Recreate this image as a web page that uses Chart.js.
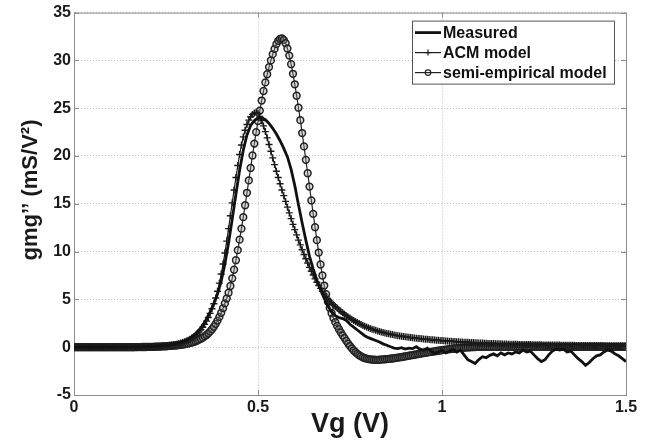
<!DOCTYPE html>
<html>
<head>
<meta charset="utf-8">
<script src="https://cdn.jsdelivr.net/npm/chart.js@4.4.1/dist/chart.umd.min.js"></script>
<style>
  html, body { margin: 0; padding: 0; background: #fff; }
  #wrap { width: 646px; height: 441px; }
</style>
</head>
<body>
<div id="wrap"><canvas id="chart" width="646" height="441"></canvas></div>
<script>
// sampling grids for Vg (V)
const vgModel = Array.from({ length: 301 }, (_, i) => +(i * 0.005).toFixed(3));
const vgMeas = Array.from({ length: 151 }, (_, i) => +(i * 0.01).toFixed(2));

// measured gmg'' (mS/V^2), every 0.01 V
const measured = [
  0, 0, 0, 0, 0, 0, 0, 0, 0, 0,
  0, 0, 0, 0, 0, 0.01, 0.01, 0.02, 0.03, 0.04,
  0.05, 0.07, 0.09, 0.12, 0.15, 0.19, 0.24, 0.31, 0.40, 0.52,
  0.67, 0.86, 1.10, 1.40, 1.80, 2.30, 2.95, 3.70, 4.55, 5.55,
  6.90, 8.70, 10.9, 13.4, 16.0, 18.5, 20.6, 22.2, 23.2, 23.7,
  23.95, 24.0, 23.8, 23.4, 22.9, 22.3, 21.6, 20.8, 19.9, 18.6,
  16.9, 14.9, 13.0, 11.2, 9.5, 8.2, 7.0, 6.0, 5.1, 4.3,
  3.7, 3.3, 3.1, 3.0, 2.8, 2.4, 2.1, 1.8, 1.5, 1.2,
  1.0, 0.85, 0.7, 0.55, 0.35, 0.2, 0.05, -0.1, -0.15, -0.05,
  -0.2, -0.1, -0.15, 0.05, -0.2, -0.3, -0.1, -0.4, -0.65, -0.5,
  -0.3, -0.6, -0.4, -0.2, -0.5, -0.3, -0.8, -1.3, -1.5, -1.7,
  -1.3, -1.0, -1.1, -0.85, -0.7, -0.9, -0.6, -0.8, -0.6, -0.7,
  -0.5, -0.6, -0.3, -0.5, -0.4, -0.8, -1.2, -1.5, -1.3, -0.8,
  -0.4, -0.2, -0.3, -0.2, -0.5, -0.4, -0.8, -1.2, -1.5, -1.9,
  -1.6, -1.2, -0.9, -0.8, -0.5, -0.3, -0.4, -0.7, -0.9, -1.2,
  -1.5
];

// ACM model, every 0.005 V
const acmModel = [
  0, 0, 0, 0, 0, 0, 0, 0, 0, 0,
  0, 0, 0, 0, 0, 0, 0, 0, 0, 0,
  0, 0, 0, 0, 0, 0, 0, 0, 0, 0,
  0, 0.01, 0.01, 0.01, 0.02, 0.02, 0.02, 0.03, 0.03, 0.04,
  0.04, 0.05, 0.05, 0.06, 0.07, 0.08, 0.09, 0.10, 0.12, 0.13,
  0.15, 0.17, 0.20, 0.22, 0.25, 0.29, 0.33, 0.38, 0.43, 0.49,
  0.56, 0.64, 0.73, 0.83, 0.95, 1.08, 1.23, 1.40, 1.60, 1.83,
  2.09, 2.39, 2.73, 3.11, 3.54, 4.02, 4.55, 5.15, 5.85, 6.70,
  7.65, 8.70, 9.85, 11.10, 12.40, 13.75, 15.10, 16.45, 17.75, 19.00,
  20.15, 21.15, 22.00, 22.70, 23.30, 23.75, 24.10, 24.35, 24.50, 24.55,
  24.45, 24.15, 23.70, 23.15, 22.55, 21.90, 21.20, 20.50, 19.80, 19.10,
  18.40, 17.75, 17.10, 16.45, 15.85, 15.25, 14.65, 14.05, 13.45, 12.85,
  12.30, 11.75, 11.20, 10.70, 10.20, 9.70, 9.25, 8.80, 8.35, 7.95,
  7.55, 7.15, 6.80, 6.45, 6.15, 5.85, 5.55, 5.30, 5.05, 4.85,
  4.65, 4.45, 4.25, 4.10, 3.90, 3.75, 3.60, 3.45, 3.30, 3.17,
  3.05, 2.93, 2.80, 2.69, 2.58, 2.48, 2.38, 2.28, 2.19, 2.11,
  2.03, 1.96, 1.89, 1.82, 1.76, 1.70, 1.64, 1.59, 1.54, 1.49,
  1.44, 1.40, 1.36, 1.32, 1.28, 1.24, 1.21, 1.18, 1.15, 1.12,
  1.09, 1.06, 1.03, 1.01, 0.98, 0.96, 0.94, 0.92, 0.90, 0.88,
  0.86, 0.84, 0.82, 0.80, 0.78, 0.77, 0.75, 0.73, 0.72, 0.70,
  0.69, 0.67, 0.66, 0.64, 0.63, 0.62, 0.60, 0.59, 0.58, 0.57,
  0.55, 0.54, 0.53, 0.52, 0.51, 0.50, 0.49, 0.48, 0.47, 0.46,
  0.45, 0.44, 0.43, 0.42, 0.41, 0.40, 0.40, 0.39, 0.38, 0.37,
  0.36, 0.36, 0.35, 0.34, 0.34, 0.33, 0.32, 0.32, 0.31, 0.31,
  0.30, 0.30, 0.29, 0.29, 0.28, 0.28, 0.28, 0.27, 0.27, 0.26,
  0.26, 0.26, 0.25, 0.25, 0.25, 0.24, 0.24, 0.24, 0.23, 0.23,
  0.23, 0.22, 0.22, 0.22, 0.22, 0.21, 0.21, 0.21, 0.21, 0.20,
  0.20, 0.20, 0.20, 0.19, 0.19, 0.19, 0.19, 0.19, 0.18, 0.18,
  0.18, 0.18, 0.18, 0.17, 0.17, 0.17, 0.17, 0.17, 0.17, 0.16,
  0.16, 0.16, 0.16, 0.16, 0.16, 0.15, 0.15, 0.15, 0.15, 0.15,
  0.15
];

// semi-empirical model, every 0.005 V
const semiModel = [
  0, 0, 0, 0, 0, 0, 0, 0, 0, 0,
  0, 0, 0, 0, 0, 0, 0, 0, 0, 0,
  0, 0, 0, 0, 0, 0, 0, 0, 0, 0,
  0, 0, 0, 0, 0.01, 0.01, 0.01, 0.02, 0.02, 0.02,
  0.03, 0.03, 0.04, 0.04, 0.05, 0.05, 0.06, 0.07, 0.08, 0.09,
  0.10, 0.11, 0.13, 0.14, 0.16, 0.18, 0.20, 0.22, 0.25, 0.28,
  0.31, 0.35, 0.39, 0.44, 0.49, 0.55, 0.62, 0.70, 0.79, 0.89,
  1.00, 1.13, 1.28, 1.45, 1.65, 1.88, 2.14, 2.44, 2.78, 3.17,
  3.60, 4.08, 4.58, 5.10, 5.70, 6.40, 7.20, 8.10, 9.10, 10.15,
  11.25, 12.40, 13.60, 14.85, 16.15, 17.45, 18.75, 20.05, 21.30, 22.50,
  23.65, 24.75, 25.80, 26.80, 27.70, 28.55, 29.30, 30.00, 30.65, 31.20,
  31.70, 32.05, 32.25, 32.30, 32.15, 31.80, 31.25, 30.50, 29.60, 28.60,
  27.50, 26.30, 25.05, 23.75, 22.40, 21.00, 19.60, 18.20, 16.80, 15.35,
  13.95, 12.55, 11.20, 9.90, 8.65, 7.50, 6.45, 5.55, 4.75, 4.10,
  3.55, 3.05, 2.62, 2.23, 1.88, 1.55, 1.24, 0.95, 0.66, 0.38,
  0.12, -0.12, -0.34, -0.53, -0.70, -0.84, -0.96, -1.06, -1.14, -1.20,
  -1.25, -1.28, -1.30, -1.31, -1.32, -1.32, -1.31, -1.30, -1.28, -1.26,
  -1.24, -1.22, -1.20, -1.18, -1.15, -1.12, -1.09, -1.06, -1.03, -1.00,
  -0.96, -0.93, -0.89, -0.86, -0.82, -0.79, -0.75, -0.72, -0.68, -0.65,
  -0.61, -0.58, -0.55, -0.52, -0.49, -0.46, -0.43, -0.40, -0.37, -0.34,
  -0.31, -0.28, -0.26, -0.23, -0.21, -0.18, -0.16, -0.14, -0.12, -0.10,
  -0.08, -0.06, -0.05, -0.03, -0.02, -0.01, 0.00, 0.01, 0.02, 0.03,
  0.04, 0.04, 0.05, 0.05, 0.05, 0.05, 0.05, 0.05, 0.05, 0.05,
  0.05, 0.05, 0.05, 0.05, 0.05, 0.05, 0.05, 0.05, 0.05, 0.05,
  0.05, 0.05, 0.05, 0.05, 0.05, 0.05, 0.05, 0.05, 0.05, 0.05,
  0.05, 0.05, 0.05, 0.05, 0.05, 0.05, 0.05, 0.05, 0.05, 0.05,
  0.04, 0.04, 0.04, 0.04, 0.04, 0.04, 0.04, 0.04, 0.04, 0.04,
  0.04, 0.04, 0.04, 0.04, 0.04, 0.04, 0.04, 0.04, 0.04, 0.04,
  0.04, 0.04, 0.04, 0.04, 0.04, 0.04, 0.04, 0.04, 0.04, 0.04,
  0.04, 0.04, 0.04, 0.04, 0.04, 0.04, 0.04, 0.04, 0.04, 0.04,
  0.04
];

const seriesNames = ['Measured', 'ACM model', 'semi-empirical model'];
const xTicks = [0, 0.5, 1, 1.5];
const yTicks = [-5, 0, 5, 10, 15, 20, 25, 30, 35];
const xTitle = 'Vg (V)';
const yTitle = 'gmg\u2019\u2019 (mS/V\u00b2)';

const FONT = "'Liberation Sans', Arial, sans-serif";
const AXIS_GREY = '#8c8c8c';

function toPoints(xs, ys) {
  return ys.map((y, i) => ({ x: xs[i], y: y }));
}

// box, inward ticks, axis titles and the boxed legend (MATLAB look)
const framePlugin = {
  id: 'frame',
  beforeDatasetsDraw(chart) {
    const { ctx, chartArea: a, scales } = chart;
    ctx.save();
    ctx.strokeStyle = AXIS_GREY;
    ctx.lineWidth = 1;
    ctx.strokeRect(a.left + 0.5, a.top + 0.5, a.right - a.left, a.bottom - a.top);
    ctx.beginPath();
    xTicks.forEach(v => {
      const x = Math.round(scales.x.getPixelForValue(v)) + 0.5;
      ctx.moveTo(x, a.bottom); ctx.lineTo(x, a.bottom - 5);
      ctx.moveTo(x, a.top); ctx.lineTo(x, a.top + 5);
    });
    yTicks.forEach(v => {
      const y = Math.round(scales.y.getPixelForValue(v)) + 0.5;
      ctx.moveTo(a.left, y); ctx.lineTo(a.left + 5, y);
      ctx.moveTo(a.right, y); ctx.lineTo(a.right - 5, y);
    });
    ctx.stroke();
    ctx.restore();
  },
  afterDraw(chart) {
    const { ctx, chartArea: a } = chart;
    ctx.save();
    ctx.fillStyle = '#1a1a1a';
    ctx.font = 'bold 27px ' + FONT;
    ctx.textAlign = 'center';
    ctx.textBaseline = 'middle';
    ctx.fillText(xTitle, (a.left + a.right) / 2, 425);

    ctx.save();
    ctx.translate(31, 190);
    ctx.rotate(-Math.PI / 2);
    ctx.font = 'bold 22px ' + FONT;
    ctx.fillText(yTitle, 0, 0);
    ctx.restore();

    // legend
    const lx = a.right - 214, ly = a.top + 8, lw = 202, lh = 63;
    ctx.fillStyle = '#fff';
    ctx.fillRect(lx, ly, lw, lh);
    ctx.strokeStyle = '#555';
    ctx.lineWidth = 1;
    ctx.strokeRect(lx + 0.5, ly + 0.5, lw, lh);

    chart.data.datasets.forEach((ds, i) => {
      const y = ly + 12 + i * 20;
      const x0 = lx + 3, x1 = lx + 29, xm = (x0 + x1) / 2;
      ctx.strokeStyle = ds.borderColor;
      ctx.lineWidth = ds.borderWidth;
      ctx.beginPath();
      ctx.moveTo(x0, y); ctx.lineTo(x1, y);
      ctx.stroke();
      ctx.lineWidth = 1.2;
      if (ds.pointStyle === 'cross') {
        ctx.beginPath();
        ctx.moveTo(xm - 3, y); ctx.lineTo(xm + 3, y);
        ctx.moveTo(xm, y - 3); ctx.lineTo(xm, y + 3);
        ctx.stroke();
      } else if (ds.pointStyle === 'circle' && ds.pointRadius > 0) {
        ctx.strokeStyle = ds.pointBorderColor;
        ctx.beginPath();
        ctx.arc(xm, y, 2.8, 0, Math.PI * 2);
        ctx.stroke();
      }
      ctx.fillStyle = '#111';
      ctx.font = 'bold 16px ' + FONT;
      ctx.textAlign = 'left';
      ctx.fillText(ds.label, lx + 31, y + 1);
    });
    ctx.restore();
  }
};

Chart.defaults.font.family = FONT;

new Chart(document.getElementById('chart'), {
  type: 'line',
  data: {
    datasets: [
      {
        label: seriesNames[0],
        data: toPoints(vgMeas, measured),
        borderColor: '#111',
        borderWidth: 2.8,
        pointRadius: 0,
        tension: 0
      },
      {
        label: seriesNames[1],
        data: toPoints(vgModel, acmModel),
        borderColor: '#1a1a1a',
        borderWidth: 1.2,
        pointStyle: 'cross',
        pointRadius: 3.5,
        pointBorderWidth: 1.4,
        pointBorderColor: '#1a1a1a',
        tension: 0
      },
      {
        label: seriesNames[2],
        data: toPoints(vgModel, semiModel),
        borderColor: '#222',
        borderWidth: 1.2,
        pointStyle: 'circle',
        pointRadius: 3.4,
        pointBorderWidth: 1.5,
        pointBorderColor: '#222',
        pointBackgroundColor: 'rgba(150,150,150,0.35)',
        tension: 0
      }
    ]
  },
  options: {
    responsive: false,
    devicePixelRatio: 1,
    animation: false,
    layout: { padding: { top: 12, right: 20, left: 0, bottom: 0 } },
    plugins: {
      legend: { display: false },
      tooltip: { enabled: false }
    },
    scales: {
      x: {
        type: 'linear',
        min: 0,
        max: 1.5,
        afterBuildTicks: s => { s.ticks = xTicks.map(v => ({ value: v })); },
        afterFit: s => { s.height = 46; },
        ticks: {
          color: '#1a1a1a',
          font: { size: 16, weight: 'bold' },
          padding: 3,
          maxRotation: 0,
          callback: v => String(v)
        },
        grid: { color: '#bdbdbd', drawTicks: false, lineWidth: 1 },
        border: { color: AXIS_GREY, dash: [1, 2] }
      },
      y: {
        type: 'linear',
        min: -5,
        max: 35,
        afterBuildTicks: s => { s.ticks = yTicks.map(v => ({ value: v })); },
        afterFit: s => { s.width = 74; },
        ticks: {
          color: '#1a1a1a',
          font: { size: 16, weight: 'bold' },
          padding: 3,
          callback: v => String(v)
        },
        grid: { color: '#bdbdbd', drawTicks: false, lineWidth: 1 },
        border: { color: AXIS_GREY, dash: [1, 2] }
      }
    }
  },
  plugins: [framePlugin]
});
</script>
</body>
</html>
